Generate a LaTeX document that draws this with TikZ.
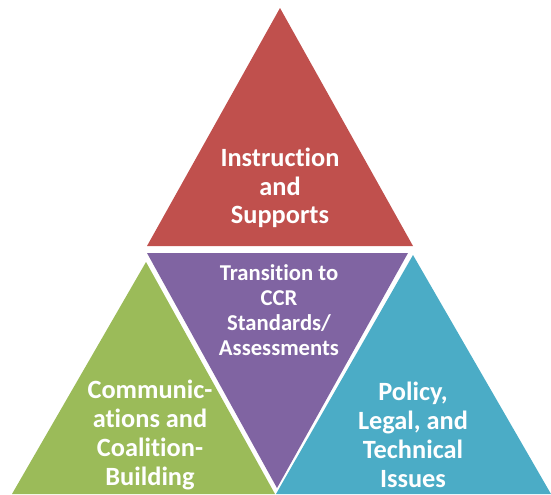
\documentclass[tikz,border=0pt]{standalone}
\usepackage{fontspec}
\setmainfont{Carlito}[Ligatures={NoCommon}]
\definecolor{tred}{HTML}{C0504D}
\definecolor{tpurple}{HTML}{8064A2}
\definecolor{tgreen}{HTML}{9BBB59}
\definecolor{tblue}{HTML}{4BACC6}
\begin{document}
\begin{tikzpicture}[x=0.02cm,y=-0.02cm,
  bigtxt/.style={text=white,align=center,inner sep=0pt,font=\bfseries\fontsize{15}{16.4}\selectfont},
  smalltxt/.style={text=white,align=center,inner sep=0pt,font=\bfseries\fontsize{12.9}{14.2}\selectfont}]
\useasboundingbox (0,0) rectangle (551,494);
\fill[tred] (280,8) -- (147,246) -- (413,246) -- cycle;
\fill[tpurple] (147,253) -- (408,253) -- (277,488) -- cycle;
\fill[tgreen] (146,262) -- (275,494) -- (12,494) -- cycle;
\fill[tblue] (413,255) -- (551,494) -- (276,494) -- cycle;
\node[bigtxt] (red) at (280,188) {Instruction\\and\\Supports};
\node[smalltxt] (purple) at (279,310) {Transition to\\CCR\\Standards/\\Assessments};
\node[bigtxt] (green) at (150,435) {Communic-\\ations and\\Coalition-\\Building};
\node[bigtxt] (blue) at (413,435) {Policy,\\Legal, and\\Technical\\Issues};
\end{tikzpicture}
\end{document}
